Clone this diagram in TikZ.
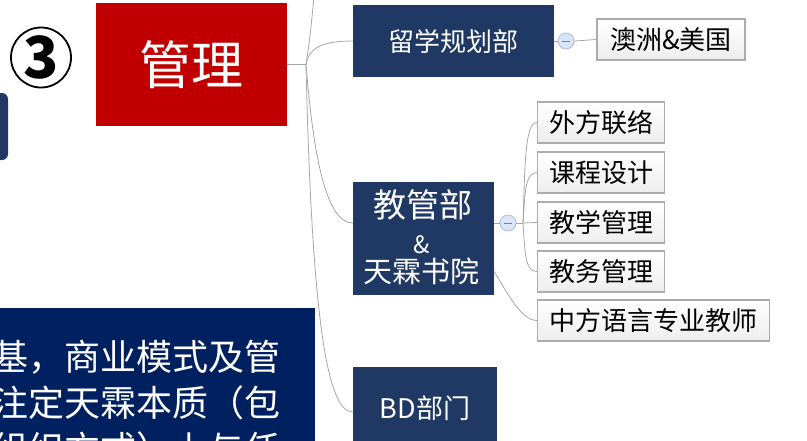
\documentclass[tikz,border=0pt]{standalone}
\usepackage{fontspec}
\setmainfont{Noto Sans CJK SC}
\usetikzlibrary{positioning}
\definecolor{deepred}{HTML}{C00000}
\definecolor{navy}{HTML}{203864}
\definecolor{deepblue}{HTML}{002060}
\definecolor{linegray}{HTML}{A6A6A6}
\definecolor{foldfill}{HTML}{DAE5F6}
\definecolor{folddraw}{HTML}{A8BFE0}
\newcommand{\fs}[1]{\fontsize{#1}{#1}\selectfont}

\begin{document}
\begin{tikzpicture}[x=1pt, y=-1pt,
  box/.style={rectangle, inner sep=0pt, anchor=center},
  redbox/.style={box, fill=deepred, text=white, font=\fs{52}},
  deptbox/.style={box, fill=navy, text=white, font=\fs{26}},
  leafbox/.style={box, draw=gray!65, line width=1.1pt, top color=white, bottom color=black!7, minimum height=41pt, font=\fs{26}},
  fold/.style={circle, draw=folddraw, fill=foldfill, line width=0.8pt, minimum size=16pt, inner sep=0pt,
    path picture={\draw[gray, line width=0.9pt] ([xshift=-4pt]path picture bounding box.center) -- ([xshift=4pt]path picture bounding box.center);}},
  whitetext/.style={inner sep=0pt, text=white},
  link/.style={draw=linegray, line width=0.8pt}]
\useasboundingbox (0,0) rectangle (807,440);
\clip (0,0) rectangle (807,440);

% Left side
\node[box, fill=navy, rounded corners=6pt, minimum width=68pt, minimum height=67pt] (side) at (-26,126.5) {};
\node[circle, draw, line width=1.8pt, minimum size=60pt, inner sep=0pt, font=\fs{58}\bfseries] (num) at (41,57.5) {3};
\node[box, fill=deepblue, minimum width=340pt, minimum height=150pt] (note) at (145,383) {};
\node[whitetext, anchor=east, font=\fs{36}] (note1) at (281,357) {基，商业模式及管};
\node[whitetext, anchor=east, font=\fs{36}] (note2) at (281,403) {注定天霖本质（包};
\node[whitetext, anchor=east, font=\fs{36}] (note3) at (281,449) {组织方式）上与任};

% Hubs
\node[redbox, minimum width=191pt, minimum height=123pt] (gl) at (191.5,64.5) {管理};
\coordinate (hub) at (306,64.5);
\coordinate (topend) at (314,-3);
\node[deptbox, minimum width=201pt, minimum height=72pt] (lx) at (453.5,41) {留学规划部};
\node[deptbox, minimum width=141pt, minimum height=113pt] (jgb) at (423.5,238.5) {};
\node[whitetext, font=\fs{33}] (jgb1) at (423,205) {教管部};
\node[whitetext, font=\fs{24}] (jgb2) at (422,245) {\&};
\node[whitetext, font=\fs{29}] (jgb3) at (421,271) {天霖书院};
\node[deptbox, minimum width=144pt, minimum height=82pt, font=\fs{27}] (bd) at (425,408) {BD部门};

% Leaves
\node[fold] (fl) at (566,41) {};
\node[leafbox, minimum width=148pt] (aum) at (671,39.5) {澳洲\&美国};
\node[fold] (fj) at (508,223) {};
\coordinate (jh) at (523,223);
\node[leafbox, anchor=west, minimum width=127pt] (wf) at (537,122.5) {外方联络};
\node[leafbox, anchor=west, minimum width=127pt] (kc) at (537,172.5) {课程设计};
\node[leafbox, anchor=west, minimum width=127pt] (jx) at (537,222.5) {教学管理};
\node[leafbox, anchor=west, minimum width=127pt] (jw) at (537,271.5) {教务管理};
\node[leafbox, anchor=west, minimum width=232pt] (zf) at (537,320.5) {中方语言专业教师};

\draw[link] (gl.east) -- (hub);
\draw[link] (hub) .. controls +(4,-25) and +(-2,20) .. (topend);
\draw[link] (hub) .. controls +(3,-18) and +(-28,0) .. (lx.west);
\draw[link] (hub) .. controls +(8,100) and +(-25,0) .. (jgb.west |- fj);
\draw[link] (hub) .. controls +(6,260) and +(-25,0) .. ([yshift=-4pt]bd.west);
\draw[link] (lx.east) -- (fl.west);
\draw[link] (fl.east) -- (aum.west);
\draw[link] (jgb.east |- fj) -- (fj.west);
\draw[link] (fj.east) -- (jh);
\draw[link] (jh) .. controls +(2,-60) and +(-12,0) .. (wf.west);
\draw[link] (jh) .. controls +(2,-30) and +(-12,0) .. (kc.west);
\draw[link] (jh) -- (jx.west);
\draw[link] (jh) .. controls +(2,30) and +(-12,0) .. (jw.west);
\draw[link] ([yshift=-33pt]jgb.east) .. controls +(15,25) and +(-15,0) .. (zf.west);
\end{tikzpicture}
\end{document}
